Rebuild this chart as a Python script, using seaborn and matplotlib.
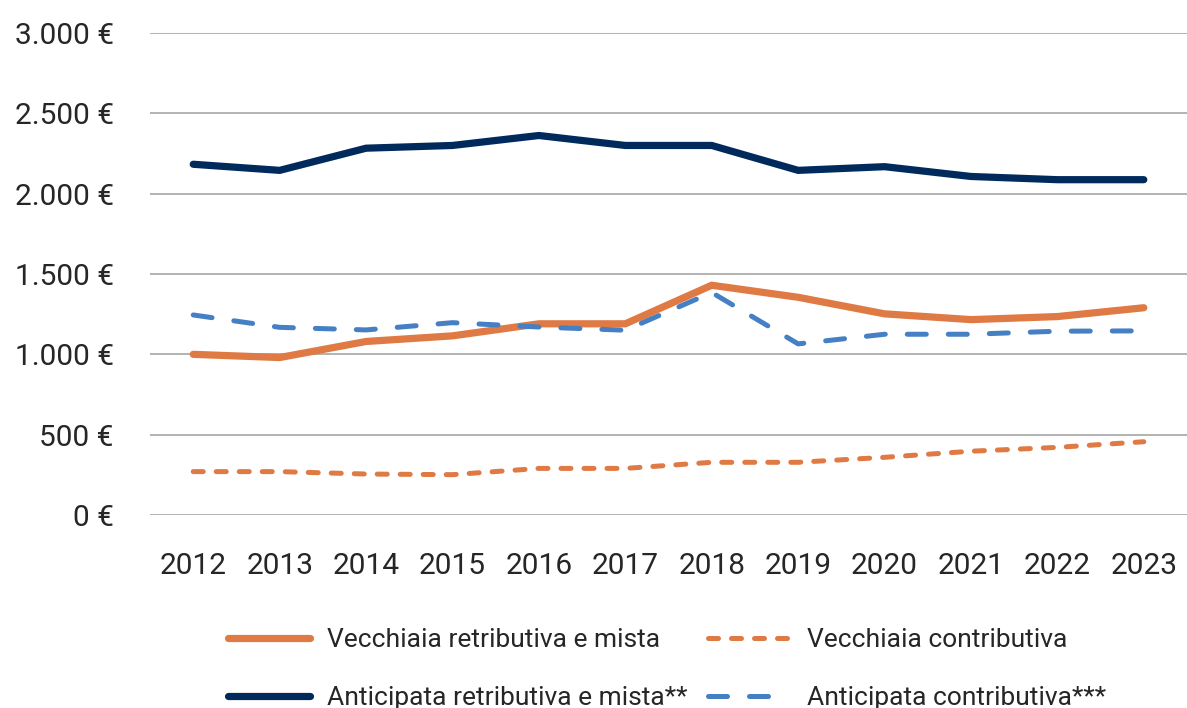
import matplotlib
matplotlib.use("Agg")
import matplotlib.pyplot as plt
import matplotlib.ticker as mticker
import pandas as pd
import seaborn as sns

years = list(range(2012, 2024))

vecchiaia_retributiva = [1000, 980, 1080, 1115, 1190, 1190, 1430, 1355, 1252, 1216, 1235, 1290]
vecchiaia_contributiva = [270, 270, 255, 251, 290, 290, 328, 328, 359, 397, 421, 456]
anticipata_retributiva = [2183, 2145, 2283, 2300, 2362, 2300, 2300, 2145, 2168, 2107, 2087, 2087]
anticipata_contributiva = [1245, 1168, 1152, 1197, 1170, 1150, 1385, 1065, 1125, 1125, 1144, 1146]

series_labels = [
    "Vecchiaia retributiva e mista",
    "Vecchiaia contributiva",
    "Anticipata retributiva e mista**",
    "Anticipata contributiva***",
]
y_ticks = [0, 500, 1000, 1500, 2000, 2500, 3000]

sns.set_theme(style="white")
plt.rcParams["font.family"] = ["Roboto", "DejaVu Sans"]

df = pd.DataFrame({
    "anno": years * 4,
    "valore": vecchiaia_retributiva + vecchiaia_contributiva
    + anticipata_retributiva + anticipata_contributiva,
    "serie": sum([[s] * len(years) for s in series_labels], []),
})

styles = {
    series_labels[0]: dict(color="#DF7A45", lw=5.2, dashes=None),
    series_labels[1]: dict(color="#DF7A45", lw=3.6, dashes=(2.0, 2.6)),
    series_labels[2]: dict(color="#002A5C", lw=5.2, dashes=None),
    series_labels[3]: dict(color="#4680C4", lw=3.6, dashes=(3.8, 4.4)),
}

fig = plt.figure(figsize=(11.87, 7.08), dpi=100)
ax = fig.add_axes([0.1264, 0.2726, 0.8736, 0.6808])

handles = {}
for name in series_labels:
    st = styles[name]
    sub = df[df["serie"] == name]
    sns.lineplot(data=sub, x="anno", y="valore", ax=ax, color=st["color"],
                 linewidth=st["lw"], legend=False)
    line = ax.get_lines()[-1]
    line.set_solid_capstyle("round")
    line.set_dash_capstyle("round")
    line.set_solid_joinstyle("miter")
    if st["dashes"] is not None:
        line.set_dashes(st["dashes"])
    handles[name] = line

ax.set_xlim(2011.5, 2023.5)
ax.set_ylim(0, 3000)
ax.set_yticks(y_ticks)
ax.yaxis.set_major_formatter(mticker.FuncFormatter(
    lambda v, _: f"{int(v):,}".replace(",", ".") + " €"))
ax.set_xticks(years)
ax.grid(axis="y", color="#A6A6A6", linewidth=1.2)
ax.set_axisbelow(True)
for s in ax.spines.values():
    s.set_visible(False)
ax.tick_params(axis="both", length=0, colors="#262626")
ax.tick_params(axis="y", pad=26, labelsize=21.5)
ax.tick_params(axis="x", pad=27, labelsize=21.5)
ax.set_xlabel("")
ax.set_ylabel("")

order = [series_labels[0], series_labels[2], series_labels[1], series_labels[3]]
fig.legend([handles[n] for n in order], order, ncol=2, frameon=False,
           loc="lower left", bbox_to_anchor=(0.172, -0.036),
           fontsize=19, handlelength=3.1, handletextpad=0.65,
           columnspacing=0.8, labelspacing=1.28, labelcolor="#262626")

fig.savefig("out.png", dpi=100)
